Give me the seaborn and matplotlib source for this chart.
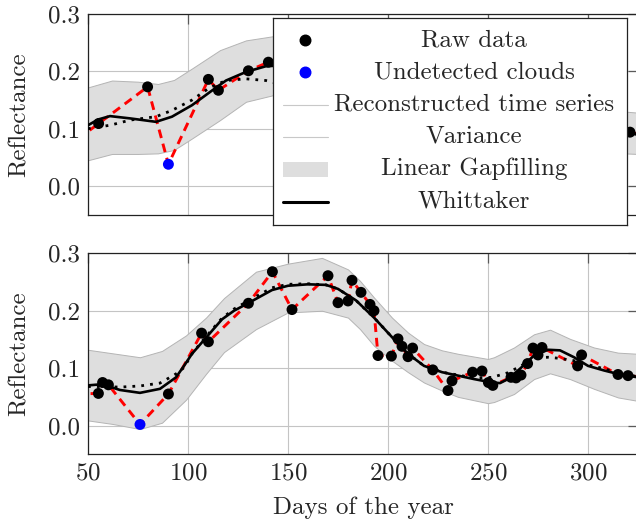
import numpy as np
import pandas as pd
import matplotlib
matplotlib.use("Agg")
import matplotlib.pyplot as plt
import seaborn as sns
from matplotlib.lines import Line2D
from matplotlib.patches import Rectangle

# ---------------- top panel ----------------
top_raw_day = [45, 55.3, 79.8, 110.2, 115.2, 130.2, 140.2, 321, 330]
top_raw_val = [0.082, 0.109, 0.173, 0.186, 0.167, 0.201, 0.216, 0.094, 0.087]
top_cloud_day = [90.2]
top_cloud_val = [0.038]

top_fit_day = [50, 55, 61, 71, 84, 92, 102, 111, 119, 129, 139, 146, 318, 325]
top_whit_val = [0.106, 0.116, 0.122, 0.118, 0.112, 0.121, 0.141, 0.164, 0.184, 0.199, 0.209, 0.210, 0.095, 0.090]
top_dot_val = [0.100, 0.103, 0.106, 0.115, 0.121, 0.132, 0.150, 0.172, 0.184, 0.187, 0.184, 0.178, 0.094, 0.090]

top_band_day = [50, 62, 75, 85, 93, 102, 116, 129, 142, 146, 318, 325]
top_band_hi = [0.172, 0.184, 0.182, 0.178, 0.185, 0.205, 0.237, 0.254, 0.261, 0.262, 0.130, 0.128]
top_band_lo = [0.045, 0.056, 0.056, 0.057, 0.063, 0.083, 0.115, 0.147, 0.158, 0.160, 0.057, 0.056]

# ---------------- bottom panel ----------------
bot_raw_day = [44, 55.2, 57.3, 60.2, 90.2, 106.8, 110.2, 130.2, 142.2, 152, 170, 175, 180, 182,
               186.5, 191, 193, 195, 201.7, 205, 207, 210, 212.3, 222.4, 230, 232, 242.3, 247,
               250.2, 252.4, 261.5, 264, 266.5, 269.8, 272.5, 275, 277, 294.8, 296.8, 315, 320, 330]
bot_raw_val = [0.055, 0.056, 0.075, 0.071, 0.055, 0.161, 0.146, 0.213, 0.268, 0.202, 0.261, 0.214,
               0.217, 0.253, 0.232, 0.211, 0.200, 0.122, 0.121, 0.151, 0.138, 0.120, 0.135, 0.097,
               0.061, 0.078, 0.093, 0.095, 0.075, 0.070, 0.084, 0.083, 0.088, 0.108, 0.135, 0.123,
               0.136, 0.104, 0.123, 0.089, 0.087, 0.083]
bot_cloud_day = [76]
bot_cloud_val = [0.002]

bot_fit_day = [50, 57, 66, 76, 86, 94, 98, 102, 109, 117, 123, 130, 142, 150, 160, 169, 175, 184,
               193, 202, 210, 218, 227, 235, 243, 252, 256, 260, 266, 273, 280, 286, 293, 300, 308,
               316, 325]
bot_whit_val = [0.070, 0.072, 0.062, 0.057, 0.064, 0.084, 0.104, 0.125, 0.153, 0.185, 0.200, 0.213,
                0.236, 0.2435, 0.246, 0.245, 0.238, 0.218, 0.188, 0.154, 0.125, 0.104, 0.093, 0.087,
                0.081, 0.075, 0.074, 0.081, 0.099, 0.122, 0.132, 0.131, 0.119, 0.104, 0.096, 0.089,
                0.084]
bot_dot_val = [0.068, 0.068, 0.067, 0.069, 0.074, 0.090, 0.101, 0.125, 0.155, 0.187, 0.203, 0.217,
               0.240, 0.246, 0.247, 0.245, 0.238, 0.218, 0.188, 0.154, 0.125, 0.104, 0.093, 0.088,
               0.083, 0.084, 0.088, 0.092, 0.103, 0.118, 0.119, 0.117, 0.113, 0.106, 0.099, 0.091,
               0.085]

bot_band_day = [50, 62, 76, 87, 99, 109, 118, 134, 150, 167, 180, 186, 193, 202, 210, 218, 227,
                235, 250, 253, 263, 273, 281, 291, 303, 315, 325]
bot_band_hi = [0.132, 0.126, 0.119, 0.130, 0.157, 0.188, 0.222, 0.268, 0.282, 0.292, 0.272, 0.252,
               0.223, 0.188, 0.162, 0.142, 0.131, 0.125, 0.116, 0.119, 0.136, 0.159, 0.167, 0.151,
               0.136, 0.127, 0.125]
bot_band_lo = [0.009, 0.003, -0.006, 0.005, 0.045, 0.090, 0.128, 0.168, 0.197, 0.200, 0.188, 0.168,
               0.139, 0.113, 0.093, 0.075, 0.061, 0.050, 0.039, 0.041, 0.055, 0.081, 0.091, 0.081,
               0.064, 0.049, 0.043]

legend_labels = ["Raw data", "Undetected clouds", "Reconstructed time series",
                 "Variance", "Linear Gapfilling", "Whittaker"]

sns.set_theme(style="whitegrid")
plt.rcParams["font.family"] = ["cmr10", "DejaVu Serif"]
plt.rcParams["axes.formatter.use_mathtext"] = True
FS = 18
plt.rcParams["font.size"] = FS

W, H = 636, 525
fig = plt.figure(figsize=(W / 100, H / 100), dpi=100)
ax_top = fig.add_axes([88 / W, 1 - 214.75 / H, 550 / W, 200.75 / H])
ax_bot = fig.add_axes([88 / W, 1 - 454.3 / H, 550 / W, 201 / H])

BAND = "#dedede"
BAND_EDGE = "#b4b4b4"


def draw_panel(ax, raw_d, raw_v, cl_d, cl_v, fit_d, whit, dot, bd, hi, lo):
    ax.fill_between(bd, lo, hi, color=BAND, edgecolor=BAND_EDGE, linewidth=0.7, zorder=1)

    gap = pd.DataFrame({"day": raw_d + cl_d, "val": raw_v + cl_v}).sort_values("day")
    sns.lineplot(data=gap, x="day", y="val", ax=ax, color="red", linewidth=2.1,
                 dashes=False, linestyle=(0, (3.0, 2.0)), zorder=2, sort=True, estimator=None)

    fit = pd.DataFrame({"day": fit_d, "whit": whit, "dot": dot})
    sns.lineplot(data=fit, x="day", y="dot", ax=ax, color="black", linewidth=2.0,
                 linestyle=(0, (1, 2.2)), zorder=3, estimator=None)
    sns.lineplot(data=fit, x="day", y="whit", ax=ax, color="black", linewidth=1.9,
                 zorder=3, estimator=None)

    sns.scatterplot(x=raw_d, y=raw_v, ax=ax, color="black", s=62, edgecolor="none", zorder=4)
    sns.scatterplot(x=cl_d, y=cl_v, ax=ax, color="#0000ff", s=62, edgecolor="none", zorder=4)

    ax.set_xlim(50, 325)
    ax.set_ylim(-0.05, 0.3)
    ax.set_xticks([50, 100, 150, 200, 250, 300])
    ax.set_yticks([0.0, 0.1, 0.2, 0.3])
    ax.yaxis.set_major_formatter(matplotlib.ticker.FormatStrFormatter("%.1f"))
    ax.set_axisbelow(True)
    ax.grid(True, color="#c4c4c4", linewidth=0.8)
    ax.set_facecolor("white")
    for sp in ax.spines.values():
        sp.set_color("#222222")
        sp.set_linewidth(0.9)
    ax.tick_params(direction="in", top=True, right=True, length=7, width=0.9,
                   color="#5a5a5a", labelsize=FS, pad=6)
    ax.set_ylabel("Reflectance", fontsize=FS)
    ax.yaxis.set_label_coords(-0.105, 0.5)
    ax.set_xlabel("")


draw_panel(ax_top, top_raw_day, top_raw_val, top_cloud_day, top_cloud_val,
           top_fit_day, top_whit_val, top_dot_val, top_band_day, top_band_hi, top_band_lo)
draw_panel(ax_bot, bot_raw_day, bot_raw_val, bot_cloud_day, bot_cloud_val,
           bot_fit_day, bot_whit_val, bot_dot_val, bot_band_day, bot_band_hi, bot_band_lo)
ax_top.tick_params(labelbottom=False)
ax_bot.set_xlabel("Days of the year", fontsize=FS)
ax_bot.xaxis.set_label_coords(0.5, -0.21)

# legend box drawn by hand so the labels can be centred like the original
lx0, ly0, lx1, ly1 = 273, 18, 627, 225
lax = fig.add_axes([lx0 / W, 1 - ly1 / H, (lx1 - lx0) / W, (ly1 - ly0) / H])
lax.set_xlim(0, lx1 - lx0)
lax.set_ylim(ly1 - ly0, 0)
lax.set_xticks([])
lax.set_yticks([])
lax.grid(False)
lax.set_facecolor("white")
for sp in lax.spines.values():
    sp.set_color("#222222")
    sp.set_linewidth(0.9)

row0, row_step = 22, 32.3
hx0, hx1, hxc, text_x = 10, 55, 32, 201
for i, lab in enumerate(legend_labels):
    y = row0 + i * row_step
    if i == 0:
        lax.add_line(Line2D([hxc], [y], marker="o", markersize=7.6, color="black", linestyle="none"))
    elif i == 1:
        lax.add_line(Line2D([hxc], [y], marker="o", markersize=7.6, color="#0000ff", linestyle="none"))
    elif i in (2, 3):
        lax.add_line(Line2D([hx0, hx1], [y, y], color="#c8c8c8", linewidth=0.8))
    elif i == 4:
        lax.add_patch(Rectangle((hx0, y - 7.5), hx1 - hx0, 15, facecolor=BAND, edgecolor="none"))
    else:
        lax.add_line(Line2D([hx0, hx1], [y, y], color="black", linewidth=2.2))
    lax.text(text_x, y, lab, ha="center", va="center", fontsize=FS)

fig.savefig("out.png", dpi=100)
